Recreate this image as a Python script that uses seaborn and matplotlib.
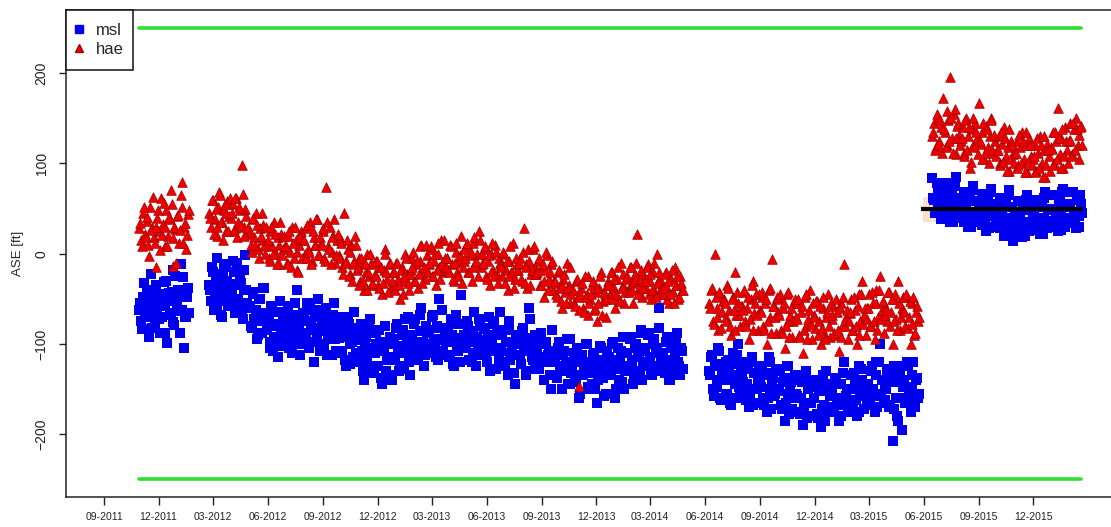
import pandas as pd
import numpy as np
import matplotlib
matplotlib.use("Agg")
import matplotlib.pyplot as plt
import matplotlib.dates as mdates
import matplotlib.patches as mpatches
from matplotlib.lines import Line2D
import seaborn as sns

# ── data ────────────────────────────────────────────────────────────
# two readings per 3-day slot: "a" list, "b" list offset by 1.5 days
seg_starts = ["2011-10-30", "2012-02-24", "2014-06-08", "2015-06-15"]

msl_seg1 = [-62, -75, -48, -70, -55, -40, -66, -82, -50, -35, -60, -72, -45, -58,
            -88, -30, -52, -68, -42, -76, -25, -57, -64, -11, -47, -104, -70, -38]
hae_seg1 = [28, 15, 45, 22, 36, 10, 52, 30, 18, -15, 40, 25, 62, 33,
            8, 48, 20, 38, 55, -14, 27, 42, 12, 65, 79, 30, 5, 44]
msl_seg1b = [-55, -84, -33, -66, -44, -92, -22, -62, -77, -40, -48, -88, -70, -31,
             -57, -99, -44, -66, -18, -79, -53, -40, -88, -62, -26, -70, -48, -66]
hae_seg1b = [34, 8, 52, 19, 41, -3, 26, 63, 12, 30, 48, 4, 21, 56,
             30, 8, 41, 70, 17, 30, -10, 43, 26, 52, 12, 34, 21, 48]

msl_seg2 = [
    -35, -52, -20, -45, -60, -28, -38, -70, -15, -48, -30, -55,
    -42, -8, -60, -35, -50, -25, -66, -40, -2, -55,
    -58, -80, -45, -72, -62, -90, -50, -68, -38, -75,
    -85, -70, -105, -60, -92, -78, -115, -65, -88, -74,
    -72, -95, -58, -84, -110, -68, -90, -40, -80, -100,
    -66, -88, -75, -98, -55, -82, -120, -70, -92, -62,
    -86, -74, -104, -60, -90, -78, -112, -68, -95, -80,
    -94, -78, -110, -85, -125, -70, -100, -88, -115, -82,
    -96, -120, -85, -108, -140, -92, -115, -78, -104, -130,
    -110, -88, -125, -98, -145, -105, -80, -118, -100, -135,
    -95, -115, -82, -105, -128, -90, -110, -72, -100, -120,
    -92, -108, -78, -100, -118, -86, -60, -98, -112, -88,
    -85, -100, -70, -95, -115, -82, -50, -96, -108, -90,
    -98, -82, -112, -90, -125, -78, -104, -94, -46, -100,
    -90, -105, -80, -98, -120, -86, -110, -92, -72, -102,
    -96, -84, -112, -90, -130, -100, -78, -106, -88, -118,
    -104, -90, -120, -98, -135, -85, -110, -100, -145, -92,
    -98, -112, -86, -105, -130, -94, -60, -108, -118, -90,
    -105, -125, -95, -115, -140, -100, -120, -108, -150, -112,
    -118, -135, -105, -125, -150, -112, -130, -95, -122, -145,
    -128, -110, -140, -120, -160, -115, -135, -125, -100, -150,
    -120, -145, -110, -130, -165, -125, -105, -138, -118, -155,
    -115, -130, -100, -125, -160, -118, -140, -108, -128, -150,
    -110, -125, -95, -118, -145, -105, -130, -112, -85, -140,
    -108, -120, -90, -115, -135, -100, -125, -105, -60, -130,
    -112, -125, -98, -118, -140, -105, -130, -110, -95, -120, -135, -108]
hae_seg2 = [
    45, 30, 60, 38, 20, 52, 65, 35, 48, 25, 58, 42,
    40, 55, 28, 62, 35, 48, 98, 30, 50, 22,
    25, 10, 38, 18, 45, 5, 28, 15, 32, 0,
    12, -5, 25, 8, 35, 0, 18, -12, 22, 5,
    8, -10, 20, 2, 30, -5, 15, -18, 10, 25,
    15, 0, 28, 5, 35, -8, 18, 10, 38, -2,
    12, 25, -5, 74, 8, 30, 2, 20, -10, 15,
    -2, 15, -15, 45, -8, 5, -22, 10, -12, 20,
    -18, -5, -30, -12, -40, -20, 0, -25, -10, -35,
    -22, -8, -35, -15, -45, -18, 5, -28, -12, -38,
    -20, -35, -10, -28, -50, -15, -30, 0, -22, -40,
    -18, -5, -30, -12, -38, -8, 10, -20, -28, -2,
    -12, 5, -25, -8, -35, 0, -15, 15, -20, -5,
    -5, -18, 10, -12, -30, 2, -20, -8, 20, -15,
    -8, 8, -20, -2, -30, 12, -10, 0, 25, -15,
    -12, 5, -25, -8, -35, 0, -18, 10, -22, -5,
    -10, -25, 0, -18, -40, -8, -20, 12, -28, -12,
    -18, -5, -30, 28, -12, -38, -8, -22, 5, -15,
    -22, -8, -35, -15, -48, -18, -2, -28, -12, -40,
    -30, -45, -20, -38, -60, -28, -42, -10, -35, -55,
    -40, -55, -30, -48, -147, -38, -60, -25, -45, -68,
    -50, -35, -62, -42, -75, -38, -20, -52, -45, -70,
    -30, -45, -20, -38, -60, -28, -50, -10, -35, -55,
    -28, -40, -15, -32, -55, -22, 22, -38, -25, -48,
    -25, -38, -12, -30, -50, -20, -42, 0, -28, -45,
    -32, -45, -20, -38, -55, -28, -42, -15, -35, -50, -25, -40]
msl_seg2b = [
    -40, -15, -62, -30, -5, -52, -68, -22, -45, -12, -58, -34,
    -45, -20, -66, -10, -55, -32, -72, -18, -40, -60,
    -60, -82, -42, -75, -95, -50, -66, -88, -38, -70,
    -75, -98, -58, -108, -80, -65, -102, -52, -85, -95,
    -85, -62, -105, -72, -95, -55, -100, -78, -112, -68,
    -70, -92, -55, -105, -80, -62, -98, -85, -50, -108,
    -78, -100, -62, -112, -85, -70, -95, -55, -108, -90,
    -85, -108, -70, -118, -92, -78, -122, -98, -65, -110,
    -95, -118, -78, -130, -102, -85, -125, -72, -108, -132,
    -100, -125, -85, -138, -108, -80, -130, -115, -92, -140,
    -95, -118, -78, -130, -102, -85, -125, -108, -70, -135,
    -90, -112, -72, -118, -98, -68, -108, -125, -80, -100,
    -88, -110, -68, -105, -80, -118, -95, -62, -112, -98,
    -90, -115, -72, -122, -98, -68, -108, -120, -78, -100,
    -98, -75, -118, -88, -110, -65, -125, -100, -80, -112,
    -102, -82, -120, -70, -108, -95, -75, -128, -90, -65,
    -108, -85, -125, -98, -75, -118, -102, -132, -90, -112,
    -100, -122, -82, -108, -135, -95, -72, -115, -100, -128,
    -105, -128, -88, -118, -140, -98, -112, -135, -85, -120,
    -115, -138, -98, -128, -150, -108, -122, -145, -95, -132,
    -120, -142, -105, -135, -155, -112, -130, -100, -148, -125,
    -132, -112, -150, -118, -140, -102, -128, -158, -120, -108,
    -115, -135, -98, -128, -150, -105, -120, -142, -92, -130,
    -110, -130, -92, -122, -140, -100, -115, -135, -88, -125,
    -105, -125, -88, -115, -135, -95, -110, -130, -82, -120,
    -110, -132, -92, -122, -140, -100, -118, -135, -88, -125, -105, -128]
hae_seg2b = [
    40, 60, 22, 50, 30, 68, 35, 15, 55, 45, 25, 62,
    45, 25, 62, 18, 52, 32, 66, 20, 42, 30,
    24, 2, 40, 10, 32, -5, 20, 45, 8, 30,
    15, -8, 30, 0, 22, -12, 10, 35, -2, 20,
    8, -12, 25, -15, 12, 30, 2, -20, 18, -5,
    15, -5, 32, 2, -12, 25, 10, 38, -2, 18,
    10, 28, -8, 35, 5, -12, 18, 38, -2, 22,
    -5, 12, -22, -10, 15, -25, 2, -30, -8, 10,
    -15, -35, -5, -30, -10, -40, -20, 0, -32, -12,
    -25, -8, -38, -15, -32, 0, -20, -42, -10, -30,
    -20, -40, -10, -35, -18, -45, -25, -5, -32, -22,
    -15, 2, -30, -8, -22, 8, -32, -15, 10, -20,
    -10, 8, -25, 0, -18, 12, -28, -10, 15, -15,
    -5, -20, 8, -28, -10, 12, -25, -2, -32, 5,
    -5, 12, -20, 2, -15, 18, -8, -25, 15, 0,
    -10, 8, -28, -2, -20, 12, -25, 2, -32, -12,
    -15, 2, -32, -8, -25, 8, -20, -38, -5, -18,
    -10, -28, 2, -32, -15, 5, -35, -18, 8, -22,
    -20, -5, -35, -12, -30, 2, -40, -20, -8, -32,
    -30, -48, -18, -52, -35, -22, -55, -38, -15, -45,
    -40, -58, -28, -62, -45, -32, -65, -48, -25, -55,
    -45, -30, -60, -38, -55, -25, -68, -42, -50, -35,
    -35, -20, -50, -28, -45, -15, -52, -38, -22, -42,
    -25, -42, -15, -40, -30, -10, -45, -28, -18, -38,
    -30, -15, -45, -22, -40, -10, -48, -32, -20, -38,
    -38, -22, -50, -30, -45, -18, -55, -35, -25, -48, -32, -40]

msl_seg3 = [
    -130, -115, -150, -125, -140, -105, -160, -135,
    -140, -120, -155, -130, -168, -110, -145, -135, -100, -150,
    -138, -160, -125, -145, -170, -120, -150, -132, -165, -142,
    -145, -125, -160, -135, -175, -115, -150, -140, -158, -130,
    -150, -130, -168, -142, -185, -125, -155, -145, -172, -138,
    -155, -175, -140, -160, -190, -135, -165, -150, -180, -145,
    -160, -140, -178, -152, -192, -145, -168, -130, -175, -158,
    -155, -170, -138, -160, -185, -145, -165, -120, -158, -175,
    -150, -135, -168, -145, -180, -125, -155, -140, -172, -148,
    -145, -160, -130, -150, -175, -120, -155, -100, -140, -165,
    -150, -130, -170, -140, -208, -125, -160, -185, -135, -195,
    -145, -165, -120, -150, -175, -135, -155, -140, -160]
hae_seg3 = [
    -55, -40, -75, 0, -60, -85, -45, -65,
    -50, -70, -35, -62, -90, -48, -20, -68, -55, -80,
    -58, -42, -75, -60, -95, -50, -30, -66, -45, -85,
    -62, -48, -80, -55, -100, -40, -70, -6, -58, -88,
    -65, -50, -85, -60, -105, -45, -75, -68, -92, -55,
    -70, -55, -90, -65, -110, -48, -80, -72, -40, -95,
    -68, -82, -52, -75, -100, -60, -88, -70, -45, -92,
    -72, -58, -90, -65, -108, -55, -80, -11, -70, -95,
    -66, -50, -85, -62, -100, -45, -75, -30, -68, -90,
    -60, -45, -80, -55, -95, -40, -70, -25, -62, -88,
    -58, -75, -42, -65, -100, -50, -72, -30, -85, -60,
    -62, -80, -48, -70, -100, -55, -90, -65, -75]
msl_seg3b = [
    -135, -112, -158, -122, -148, -108, -162, -128,
    -135, -158, -118, -165, -140, -122, -160, -112, -148, -130,
    -142, -120, -162, -128, -155, -115, -168, -132, -150, -125,
    -148, -125, -168, -132, -160, -120, -172, -138, -155, -128,
    -152, -130, -172, -138, -165, -125, -178, -142, -160, -135,
    -158, -135, -178, -142, -170, -130, -182, -148, -165, -140,
    -160, -140, -182, -148, -172, -135, -185, -152, -170, -145,
    -155, -175, -138, -168, -145, -180, -132, -165, -150, -172,
    -150, -170, -132, -162, -140, -175, -128, -158, -145, -168,
    -145, -165, -125, -158, -135, -170, -120, -155, -140, -162,
    -150, -128, -168, -135, -172, -142, -180, -125, -160, -148,
    -140, -165, -125, -160, -148, -120, -170, -138, -155]
hae_seg3b = [
    -60, -38, -78, -48, -70, -42, -82, -52,
    -55, -75, -38, -80, -50, -62, -85, -42, -68, -58,
    -62, -40, -80, -48, -72, -35, -85, -55, -68, -45,
    -65, -42, -85, -50, -75, -38, -88, -58, -70, -48,
    -68, -45, -88, -55, -80, -42, -92, -60, -75, -50,
    -72, -50, -92, -58, -85, -45, -95, -62, -78, -55,
    -70, -52, -90, -58, -82, -48, -95, -65, -80, -55,
    -68, -88, -50, -85, -60, -92, -48, -80, -62, -75,
    -65, -85, -48, -80, -58, -90, -45, -78, -60, -72,
    -60, -80, -42, -75, -55, -85, -40, -72, -52, -68,
    -62, -42, -80, -50, -75, -45, -85, -55, -70, -48,
    -65, -45, -82, -52, -78, -48, -88, -58, -70]

msl_seg4 = [
    84, 60, 45, 72, 55, 38,
    65, 48, 78, 58, 35, 70, 52, 85, 44, 62,
    55, 40, 68, 50, 30, 62, 45, 75, 38, 58,
    52, 35, 65, 48, 25, 60, 42, 72, 30, 55,
    48, 32, 62, 45, 20, 58, 40, 70, 28, 14,
    42, 28, 58, 38, 18, 52, 35, 65, 25, 48,
    45, 30, 60, 40, 22, 55, 38, 68, 28, 50,
    50, 35, 65, 45, 25, 58, 42, 72, 30, 55,
    52, 38, 68, 45, 28, 60, 42, 55]
hae_seg4 = [
    130, 145, 118, 150, 125, 140,
    173, 135, 120, 148, 196, 128, 155, 110, 142, 132,
    125, 140, 112, 150, 130, 95, 138, 120, 145, 128,
    167, 122, 135, 105, 142, 118, 130, 150, 112, 125,
    115, 130, 100, 122, 140, 108, 118, 92, 125, 110,
    112, 125, 98, 118, 135, 105, 120, 90, 128, 108,
    105, 120, 92, 112, 130, 100, 115, 85, 122, 108,
    118, 135, 100, 125, 161, 110, 128, 95, 140, 115,
    125, 145, 110, 138, 150, 120, 132, 142]
msl_seg4b = [
    62, 45, 78, 52, 70, 40,
    58, 40, 72, 45, 65, 35, 75, 50, 62, 42,
    52, 35, 68, 40, 60, 30, 70, 45, 58, 38,
    50, 32, 66, 38, 58, 28, 68, 42, 55, 35,
    46, 28, 62, 35, 55, 25, 65, 38, 52, 30,
    42, 25, 58, 30, 50, 20, 60, 35, 48, 28,
    44, 26, 60, 32, 52, 22, 62, 36, 50, 30,
    48, 30, 65, 36, 56, 26, 68, 40, 55, 34,
    52, 35, 68, 40, 60, 30, 65, 45]
hae_seg4b = [
    135, 115, 155, 122, 148, 112,
    138, 118, 158, 125, 150, 112, 160, 128, 145, 120,
    128, 108, 148, 115, 140, 102, 150, 118, 135, 110,
    125, 105, 145, 112, 138, 100, 148, 115, 132, 108,
    115, 98, 135, 102, 128, 92, 138, 105, 122, 100,
    112, 95, 132, 100, 125, 90, 135, 102, 120, 98,
    108, 90, 128, 95, 120, 85, 130, 98, 115, 92,
    116, 98, 135, 105, 128, 95, 138, 108, 125, 100,
    126, 108, 145, 115, 138, 105, 140, 120]

# reference level (black line + band) and the +/-250 limits
ref_level = 50
ref_band = (35, 63)
ref_start, ref_end = "2015-05-28", "2016-02-22"
band_start, band_end = "2015-05-31", "2016-02-19"
limit = 250
tick_dates = pd.date_range("2011-09-01", "2015-12-01", freq="3MS")


def build(segments, offset_hours=0):
    frames = []
    for start, vals in zip(seg_starts, segments):
        d0 = pd.Timestamp(start) + pd.Timedelta(hours=offset_hours)
        d = pd.date_range(d0, periods=len(vals), freq="3D")
        frames.append(pd.DataFrame({"date": d, "value": vals}))
    return pd.concat(frames, ignore_index=True)


msl = pd.concat([build([msl_seg1, msl_seg2, msl_seg3, msl_seg4]),
                 build([msl_seg1b, msl_seg2b, msl_seg3b, msl_seg4b], 36)],
                ignore_index=True)
hae = pd.concat([build([hae_seg1, hae_seg2, hae_seg3, hae_seg4]),
                 build([hae_seg1b, hae_seg2b, hae_seg3b, hae_seg4b], 36)],
                ignore_index=True)

# ── plot ────────────────────────────────────────────────────────────
sns.set_style("ticks")
plt.rcParams["font.family"] = ["Liberation Sans", "DejaVu Sans"]

fig = plt.figure(figsize=(11.11, 5.27), dpi=100)
ax = fig.add_axes([66 / 1111, 1 - 497.3 / 527, 1 - 66 / 1111, 487.3 / 527])

ax.fill_between(pd.to_datetime([band_start, band_end]), ref_band[0], ref_band[1],
                color="#FBE2C8", lw=0, zorder=1)

sns.scatterplot(data=msl, x="date", y="value", marker="s", s=50, color="#0000EE",
                linewidth=0, ax=ax, zorder=2)
sns.scatterplot(data=hae, x="date", y="value", marker="^", s=48, color="#EE0000",
                edgecolor="#A00000", linewidth=0.5, ax=ax, zorder=3)

ax.plot(pd.to_datetime([ref_start, ref_end]), [ref_level, ref_level],
        color="black", lw=3, solid_capstyle="butt", zorder=4)

first = pd.Timestamp(seg_starts[0])
last = pd.Timestamp(seg_starts[-1]) + pd.Timedelta(days=3 * (len(msl_seg4) - 1))
for y in (limit, -limit):
    ax.plot([first, last], [y, y], color="#33DD33", lw=2.6, zorder=2)

ax.set_xlim(pd.Timestamp("2011-06-29 12:00"), pd.Timestamp("2016-04-08 16:00"))
ax.set_ylim(-270, 270)
ax.set_xticks(tick_dates)
ax.xaxis.set_major_formatter(mdates.DateFormatter("%m-%Y"))
ax.set_yticks([-200, -100, 0, 100, 200])
ax.tick_params(axis="x", labelsize=7.5, length=5.5, width=1, colors="#222222", pad=5)
ax.tick_params(axis="y", labelsize=10, length=5, width=1, colors="#222222", pad=7.5)
for lab in ax.get_yticklabels():
    lab.set_rotation(90)
    lab.set_va("center")

ax.set_xlabel("")
ax.set_ylabel("ASE [ft]", fontsize=9.5)
ax.yaxis.set_label_coords(-0.040, 0.5)

for side in ("left", "bottom", "top"):
    ax.spines[side].set_linewidth(1.1)
    ax.spines[side].set_color("#222222")
ax.spines["right"].set_visible(False)

# legend box in the top-left corner, R style
box = mpatches.Rectangle((0, 1 - 60 / 487.3), 67 / 1045, 60 / 487.3,
                         transform=ax.transAxes, facecolor="white",
                         edgecolor="#111111", lw=1.1, zorder=5, clip_on=False)
ax.add_patch(box)
handles = [
    Line2D([], [], marker="s", ls="", color="#0000EE", markersize=6),
    Line2D([], [], marker="^", ls="", color="#EE0000", markeredgecolor="#A00000",
           markersize=6),
]
leg = ax.legend(handles, ["msl", "hae"], loc="upper left",
                bbox_to_anchor=(4.7 / 1045, 1 - 13 / 487.3), borderaxespad=0,
                borderpad=0, frameon=False, fontsize=12, handlelength=1.0,
                handletextpad=0.52, labelspacing=0.25)
leg.set_zorder(6)

fig.savefig("out.png", dpi=100)
